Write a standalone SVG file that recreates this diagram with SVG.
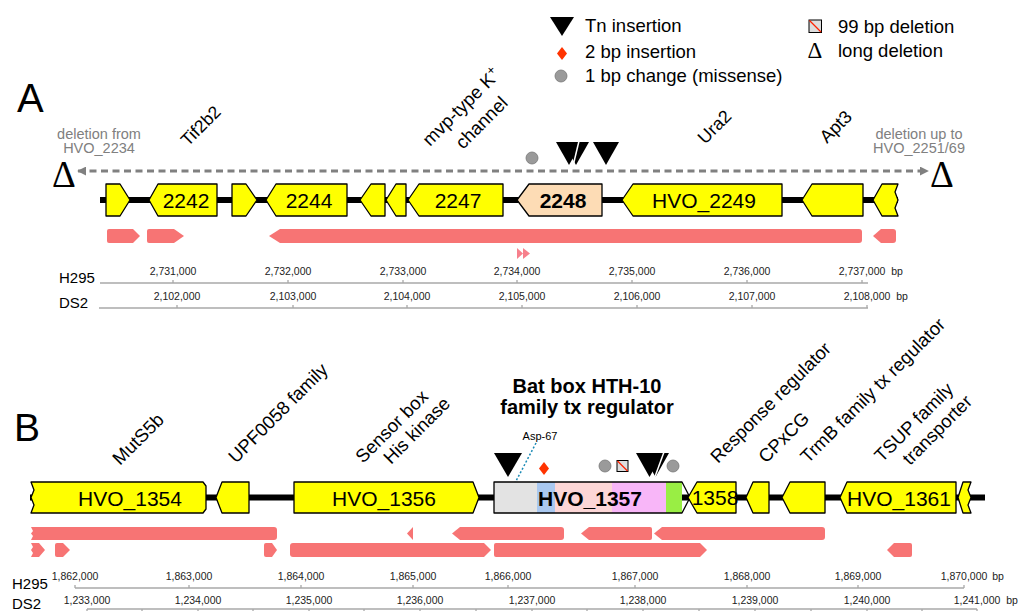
<svg xmlns="http://www.w3.org/2000/svg" width="1019" height="611" viewBox="0 0 1019 611">
<defs>
<style>
text{font-family:"Liberation Sans",Arial,sans-serif;fill:#000}
.gene{fill:#ffff00;stroke:#000;stroke-width:1.3;stroke-linejoin:round}
.gl{font-size:21px;text-anchor:middle}
.bar{fill:#f77474}
.rot{font-size:18.5px}
.leg{font-size:18.5px}
.tn{fill:#000}
.ax{stroke:#a8a8a8;stroke-width:1.3;fill:none}
.tk{font-size:10.5px;text-anchor:middle;fill:#222}
.sc{font-size:15px}
.dot{fill:#9a9a9a;stroke:#777;stroke-width:0.8}
.delta{font-family:"Liberation Serif","Times New Roman",serif}
.gray{fill:#808080;font-size:14.5px;text-anchor:middle}
</style>
<marker id="ah" viewBox="0 0 10 10" refX="9" refY="5" markerWidth="3" markerHeight="3" orient="auto-start-reverse">
<path d="M0,0 L10,5 L0,10 Z" fill="#808080"/>
</marker>
</defs>
<rect width="1019" height="611" fill="#fff"/>

<!-- Legend -->
<g id="legend">
<path class="tn" d="M550,17 L574,17 L562,36 Z"/>
<text class="leg" x="585" y="32">Tn insertion</text>
<path d="M562,47 L567,53.5 L562,60 L557,53.5 Z" fill="#ff3300"/>
<text class="leg" x="585" y="58">2 bp insertion</text>
<circle class="dot" cx="561" cy="76" r="6"/>
<text class="leg" x="585" y="82">1 bp change (missense)</text>
<rect x="809" y="20" width="12.5" height="12.5" fill="#ddd" stroke="#000" stroke-width="1"/>
<line x1="809.5" y1="20.5" x2="821" y2="32" stroke="#ff2200" stroke-width="1.3"/>
<text class="leg" x="838" y="33">99 bp deletion</text>
<text class="delta" x="815" y="58" font-size="23" text-anchor="middle">Δ</text>
<text class="leg" x="838" y="57">long deletion</text>
</g>

<!-- Panel A -->
<text x="17" y="112" font-size="40">A</text>
<g id="A-labels">
<text class="rot" transform="translate(188,147) rotate(-45)" style="font-size:17.5px">Tif2b2</text>
<text class="rot" transform="translate(430,147) rotate(-45)">mvp-type K<tspan dy="-7" font-size="13">+</tspan></text>
<text class="rot" transform="translate(463,150) rotate(-45)">channel</text>
<text class="rot" transform="translate(705,145) rotate(-45)" style="font-size:18px">Ura2</text>
<text class="rot" transform="translate(827,144) rotate(-45)" style="font-size:18px">Apt3</text>
<text class="gray" x="99" y="139">deletion from</text>
<text class="gray" x="99" y="153">HVO_2234</text>
<text class="gray" x="919" y="139">deletion up to</text>
<text class="gray" x="919" y="153">HVO_2251/69</text>
<text class="delta" x="64" y="187" font-size="37" text-anchor="middle">Δ</text>
<text class="delta" x="942" y="187" font-size="37" text-anchor="middle">Δ</text>
</g>
<g id="A-connectors">
<line x1="78" y1="171" x2="928" y2="171" stroke="#808080" stroke-width="3" stroke-dasharray="7,4.5" marker-start="url(#ah)" marker-end="url(#ah)"/>
</g>
<line x1="100" y1="200" x2="898" y2="200" stroke="#000" stroke-width="6"/>
<g id="A-genes">
<g id="gA1"><path class="gene" d="M106,184 L120,184 L130,200 L120,216 L106,216 Z"/></g>
<g id="g2242"><path class="gene" d="M217,184 L158,184 L149,200 L158,216 L217,216 Z"/><text class="gl" x="186" y="208">2242</text></g>
<g id="gA3"><path class="gene" d="M232,184 L246,184 L257,200 L246,216 L232,216 Z"/></g>
<g id="g2244"><path class="gene" d="M347,184 L276,184 L266,200 L276,216 L347,216 Z"/><text class="gl" x="309" y="208">2244</text></g>
<g id="gA5"><path class="gene" d="M385,184 L371,184 L360,200 L371,216 L385,216 Z"/></g>
<g id="gA6"><path class="gene" d="M406,184 L396,184 L386,200 L396,216 L406,216 Z"/></g>
<g id="g2247"><path class="gene" d="M503,184 L419,184 L408,200 L419,216 L503,216 Z"/><text class="gl" x="458" y="208">2247</text></g>
<g id="g2248"><path class="gene" style="fill:#fddcb5" d="M602,184 L529,184 L517,200 L529,216 L602,216 Z"/><text class="gl" x="563" y="208" font-weight="bold">2248</text></g>
<g id="g2249"><path class="gene" d="M782,184 L633,184 L622,200 L633,216 L782,216 Z"/><text class="gl" x="704" y="208">HVO_2249</text></g>
<g id="gA10"><path class="gene" d="M863,184 L812,184 L802,200 L812,216 L863,216 Z"/></g>
<g id="gA11"><path class="gene" d="M898,184 L882,184 L873,200 L882,216 L898,216 L895,208 L898,200 L895,192 Z"/></g>
</g>
<g id="A-marks">
<circle class="dot" cx="532" cy="158" r="6"/>
<path class="tn" d="M563,142 L589,142 L576,165 Z"/>
<path class="tn" d="M556,142 L582,142 L569,165 Z"/>
<line x1="579" y1="141" x2="573" y2="166" stroke="#fff" stroke-width="1.5"/>
<path class="tn" d="M593,142 L619,142 L606,165 Z"/>
</g>
<g id="A-bars">
<path class="bar" d="M109,229 L133,229 L140,236 L133,243 L109,243 Q107,243 107,241 L107,231 Q107,229 109,229 Z"/>
<path class="bar" d="M149,229 L174,229 L184,236 L174,243 L149,243 Q147,243 147,241 L147,231 Q147,229 149,229 Z"/>
<path class="bar" d="M859,229 L280,229 L269,236 L280,243 L859,243 Q862,243 862,240 L862,232 Q862,229 859,229 Z"/>
<path class="bar" d="M893,229 L881,229 L873,236 L881,243 L893,243 Q896,243 896,240 L896,232 Q896,229 893,229 Z"/>
<path d="M517,248 L523,253.5 L517,259 Z M523,248 L530,253.5 L523,259 Z" fill="#f7808c"/>
</g>
<g id="A-scale">
<text class="sc" x="59" y="283">H295</text>
<line class="ax" x1="100" y1="283" x2="868" y2="283"/>
<path class="ax" d="M173,280V283M288,280V283M403,280V283M517,280V283M632,280V283M747,280V283M862,280V283"/>
<text class="tk" x="173" y="275">2,731,000</text>
<text class="tk" x="288" y="275">2,732,000</text>
<text class="tk" x="403" y="275">2,733,000</text>
<text class="tk" x="517" y="275">2,734,000</text>
<text class="tk" x="632" y="275">2,735,000</text>
<text class="tk" x="747" y="275">2,736,000</text>
<text class="tk" x="862" y="275">2,737,000</text>
<text class="tk" x="897" y="275">bp</text>
<text class="sc" x="59" y="308">DS2</text>
<line class="ax" x1="99" y1="308" x2="868" y2="308"/>
<path class="ax" d="M177,305V308M293,305V308M407,305V308M522,305V308M637,305V308M752,305V308M867,305V308"/>
<text class="tk" x="177" y="300">2,102,000</text>
<text class="tk" x="293" y="300">2,103,000</text>
<text class="tk" x="407" y="300">2,104,000</text>
<text class="tk" x="522" y="300">2,105,000</text>
<text class="tk" x="637" y="300">2,106,000</text>
<text class="tk" x="752" y="300">2,107,000</text>
<text class="tk" x="867" y="300">2,108,000</text>
<text class="tk" x="902" y="300">bp</text>
</g>

<!-- Panel B -->
<text x="14" y="441" font-size="39">B</text>
<g id="B-labels">
<text class="rot" transform="translate(120,466) rotate(-45)">MutS5b</text>
<text class="rot" transform="translate(236,464) rotate(-45)">UPF0058 family</text>
<text class="rot" transform="translate(363,464) rotate(-45)">Sensor box</text>
<text class="rot" transform="translate(391,465) rotate(-45)">His kinase</text>
<text class="rot" transform="translate(718,464) rotate(-45)">Response regulator</text>
<text class="rot" transform="translate(766,464) rotate(-45)">CPxCG</text>
<text class="rot" transform="translate(808,464) rotate(-45)">TrmB family tx regulator</text>
<text class="rot" transform="translate(882,463) rotate(-45)">TSUP family</text>
<text class="rot" transform="translate(910,466) rotate(-45)">transporter</text>
<text x="587" y="393" font-size="20" font-weight="bold" text-anchor="middle">Bat box HTH-10</text>
<text x="587" y="414" font-size="20" font-weight="bold" text-anchor="middle">family tx regulator</text>
<text x="540" y="440" font-size="11" text-anchor="middle" fill="#222">Asp-67</text>
</g>
<g id="B-connectors">
<line x1="536" y1="443" x2="515" y2="483" stroke="#1a8ab5" stroke-width="1.5" stroke-dasharray="2,2"/>
</g>
<line x1="30" y1="497.5" x2="985" y2="497.5" stroke="#000" stroke-width="6"/>
<g id="B-genes">
<g id="g1354"><path class="gene" d="M31,482 L203,482 L206,486 L206,509 L203,513 L31,513 L34,505 L31,497.5 L34,490 Z"/><text class="gl" x="130" y="506" font-size="22">HVO_1354</text></g>
<g id="gB2"><path class="gene" d="M249,482 L222,482 L216,497.5 L222,513 L249,513 Z"/></g>
<g id="g1356"><path class="gene" d="M294,482 L473,482 L479,497.5 L473,513 L294,513 Z"/><text class="gl" x="384" y="506" font-size="22">HVO_1356</text></g>
<g id="g1357">
<rect x="494" y="482" width="43" height="31" fill="#e3e3e3"/>
<rect x="537" y="482" width="18" height="31" fill="#a9c8f0"/>
<rect x="555" y="482" width="57" height="31" fill="#fcd6d6"/>
<rect x="612" y="482" width="54" height="31" fill="#f8b6f8"/>
<rect x="666" y="482" width="16" height="31" fill="#99ee44"/>
<path d="M494,482 L682,482 L690,497.5 L682,513 L494,513 Z" fill="none" stroke="#000" stroke-width="1.3" stroke-linejoin="round"/>
<text class="gl" x="590" y="506" font-size="22" font-weight="bold">HVO_1357</text>
</g>
<g id="g1358"><path class="gene" d="M736,482 L697,482 L688,497.5 L697,513 L736,513 Z"/><text class="gl" x="715" y="505" font-size="19">1358</text></g>
<g id="gB6"><path class="gene" d="M769,482 L753,482 L746,497.5 L753,513 L769,513 Z"/></g>
<g id="gB7"><path class="gene" d="M825,482 L790,482 L782,497.5 L790,513 L825,513 Z"/></g>
<g id="g1361"><path class="gene" d="M956,482 L847,482 L840,497.5 L847,513 L956,513 Z"/><text class="gl" x="899" y="506" font-size="22">HVO_1361</text></g>
<g id="gB9"><path class="gene" d="M971,482 L963,482 L958,497.5 L963,513 L971,513 L968,505 L971,497.5 L968,490 Z"/></g>
</g>
<g id="B-marks">
<path class="tn" d="M494,453 L522,453 L508,477 Z"/>
<path d="M544,462 L549,468.5 L544,475 L539,468.5 Z" fill="#ff3300"/>
<circle class="dot" cx="605" cy="466" r="6"/>
<rect x="617" y="460.5" width="11" height="11" fill="#ddd" stroke="#000" stroke-width="1"/>
<line x1="617.5" y1="461" x2="627.5" y2="471" stroke="#ff2200" stroke-width="1.3"/>
<path class="tn" d="M642,453 L669,453 L655.5,477 Z"/>
<path class="tn" d="M636,453 L663,453 L649.5,477 Z"/>
<line x1="664" y1="452" x2="654.5" y2="478" stroke="#fff" stroke-width="1.5"/>
<circle class="dot" cx="673" cy="466" r="6"/>
</g>
<g id="B-bars">
<path class="bar" d="M31,527 L274,527 Q277,527 277,530 L277,537 Q277,540 274,540 L31,540 L33,536 L31,533.5 L33,531 Z"/>
<path class="bar" d="M413,527 L413,540 L407,533.5 Z"/>
<path class="bar" d="M561,527 L460,527 L452,533.5 L460,540 L561,540 Q564,540 564,537 L564,530 Q564,527 561,527 Z"/>
<path class="bar" d="M650,527 L589,527 L581,533.5 L589,540 L650,540 Q652,540 652,538 L652,529 Q652,527 650,527 Z"/>
<path class="bar" d="M822,527 L662,527 L654,533.5 L662,540 L822,540 Q825,540 825,537 L825,530 Q825,527 822,527 Z"/>
<path class="bar" d="M31,543 L39,543 L45,550 L39,557 L31,557 L33,553 L31,550 L33,547 Z"/>
<path class="bar" d="M57,543 L63,543 L70,550 L63,557 L57,557 Q55,557 55,555 L55,545 Q55,543 57,543 Z"/>
<path class="bar" d="M266,543 L272,543 L277,550 L272,557 L266,557 Q264,557 264,555 L264,545 Q264,543 266,543 Z"/>
<path class="bar" d="M293,543 L484,543 L491,550 L484,557 L293,557 Q290,557 290,554 L290,546 Q290,543 293,543 Z"/>
<path class="bar" d="M496,543 L700,543 L707,550 L700,557 L496,557 Q494,557 494,555 L494,545 Q494,543 496,543 Z"/>
<path class="bar" d="M910,543 L894,543 L887,550 L894,557 L910,557 Q912,557 912,555 L912,545 Q912,543 910,543 Z"/>
</g>
<g id="B-scale">
<text class="sc" x="12" y="589">H295</text>
<line class="ax" x1="75" y1="588" x2="964" y2="588"/>
<path class="ax" d="M75,585V588M189,585V588M301,585V588M413,585V588M508,585V588M635,585V588M747,585V588M858,585V588M964,585V588"/>
<text class="tk" x="75" y="580">1,862,000</text>
<text class="tk" x="189" y="580">1,863,000</text>
<text class="tk" x="301" y="580">1,864,000</text>
<text class="tk" x="413" y="580">1,865,000</text>
<text class="tk" x="508" y="580">1,866,000</text>
<text class="tk" x="635" y="580">1,867,000</text>
<text class="tk" x="747" y="580">1,868,000</text>
<text class="tk" x="858" y="580">1,869,000</text>
<text class="tk" x="964" y="580">1,870,000</text>
<text class="tk" x="998" y="580">bp</text>
<text class="sc" x="12" y="609">DS2</text>
<line class="ax" x1="87" y1="609" x2="977" y2="609"/>
<path class="ax" d="M87,609V612M142,609V612M198,609V612M253,609V612M309,609V612M364,609V612M420,609V612M476,609V612M532,609V612M587,609V612M643,609V612M699,609V612M755,609V612M811,609V612M867,609V612M922,609V612M977,609V612"/>
<text class="tk" x="87" y="604">1,233,000</text>
<text class="tk" x="198" y="604">1,234,000</text>
<text class="tk" x="309" y="604">1,235,000</text>
<text class="tk" x="420" y="604">1,236,000</text>
<text class="tk" x="532" y="604">1,237,000</text>
<text class="tk" x="643" y="604">1,238,000</text>
<text class="tk" x="755" y="604">1,239,000</text>
<text class="tk" x="867" y="604">1,240,000</text>
<text class="tk" x="977" y="604">1,241,000</text>
<text class="tk" x="1012" y="604">bp</text>
</g>
</svg>
